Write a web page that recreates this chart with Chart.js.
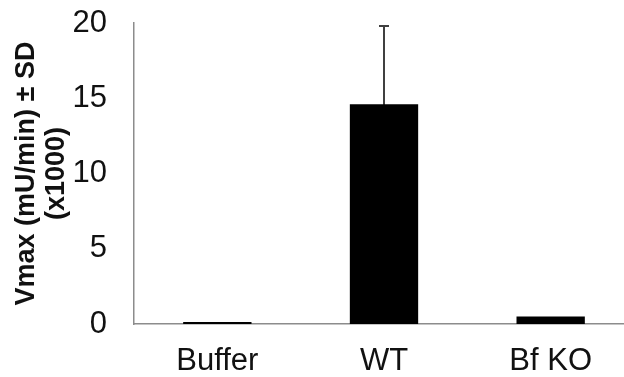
<!DOCTYPE html>
<html>
<head>
<meta charset="utf-8">
<script src="https://cdn.jsdelivr.net/npm/chart.js@4"></script>
<style>
  html, body { margin: 0; padding: 0; background: #fff; overflow: hidden; width: 624px; height: 377px; }
  canvas { position: absolute; left: 0; top: 0; }
</style>
</head>
<body>
<canvas id="vmaxChart" width="636" height="377"></canvas>
<script>
const groups = ['Buffer', 'WT', 'Bf KO'];
const vmax = [0.13, 14.6, 0.5];
const vmaxSD = [0, 5.2, 0];
const yTicks = [0, 5, 10, 15, 20];

// plain error bars, drawn behind the bars so only the upper half shows
const errorBars = {
    id: 'errorBars',
    beforeDatasetsDraw(chart) {
        const ctx = chart.ctx;
        const meta = chart.getDatasetMeta(0);
        const y = chart.scales.y;
        ctx.save();
        ctx.strokeStyle = '#404040';
        ctx.lineWidth = 2;
        meta.data.forEach((bar, i) => {
            if (!vmaxSD[i]) return;
            const top = y.getPixelForValue(vmax[i] + vmaxSD[i]);
            const bottom = y.getPixelForValue(vmax[i] - vmaxSD[i]);
            ctx.beginPath();
            ctx.moveTo(bar.x, bottom);
            ctx.lineTo(bar.x, top);
            ctx.moveTo(bar.x - 5, top);
            ctx.lineTo(bar.x + 5, top);
            ctx.stroke();
        });
        ctx.restore();
    }
};

const ctx = document.getElementById('vmaxChart').getContext('2d');
new Chart(ctx, {
    type: 'bar',
    data: {
        labels: groups,
        datasets: [{
            data: vmax,
            backgroundColor: '#000',
            borderWidth: 0,
            barPercentage: 0.41,
            categoryPercentage: 1
        }]
    },
    options: {
        responsive: false,
        animation: false,
        layout: { padding: { top: 23, right: 2, left: 0, bottom: 0 } },
        plugins: {
            legend: { display: false },
            tooltip: { enabled: false }
        },
        scales: {
            x: {
                // tick marks are hidden; tickLength only makes the gap under the axis
                grid: { display: false, drawTicks: true, tickLength: 22 },
                border: { display: true, color: '#8c8c8c', width: 1.5 },
                ticks: {
                    color: '#111',
                    padding: 0,
                    font: { family: 'Liberation Sans, Arial, sans-serif', size: 31, lineHeight: 1 }
                }
            },
            y: {
                min: 0,
                max: 20,
                afterBuildTicks(scale) {
                    scale.ticks = yTicks.map(v => ({ value: v }));
                },
                afterFit(scale) {
                    scale.width = 134;
                },
                grid: { display: false, drawTicks: true, tickLength: 27 },
                border: { display: true, color: '#8c8c8c', width: 1.5 },
                ticks: {
                    color: '#111',
                    padding: 0,
                    font: { family: 'Liberation Sans, Arial, sans-serif', size: 31 }
                },
                title: {
                    display: true,
                    text: ['Vmax (mU/min) \u00b1 SD', '(x1000)'],
                    color: '#111',
                    padding: { top: 12, bottom: 0 },
                    font: { family: 'Liberation Sans, Arial, sans-serif', size: 27, weight: 'bold', lineHeight: 1.1 }
                }
            }
        }
    },
    plugins: [errorBars]
});
</script>
</body>
</html>
